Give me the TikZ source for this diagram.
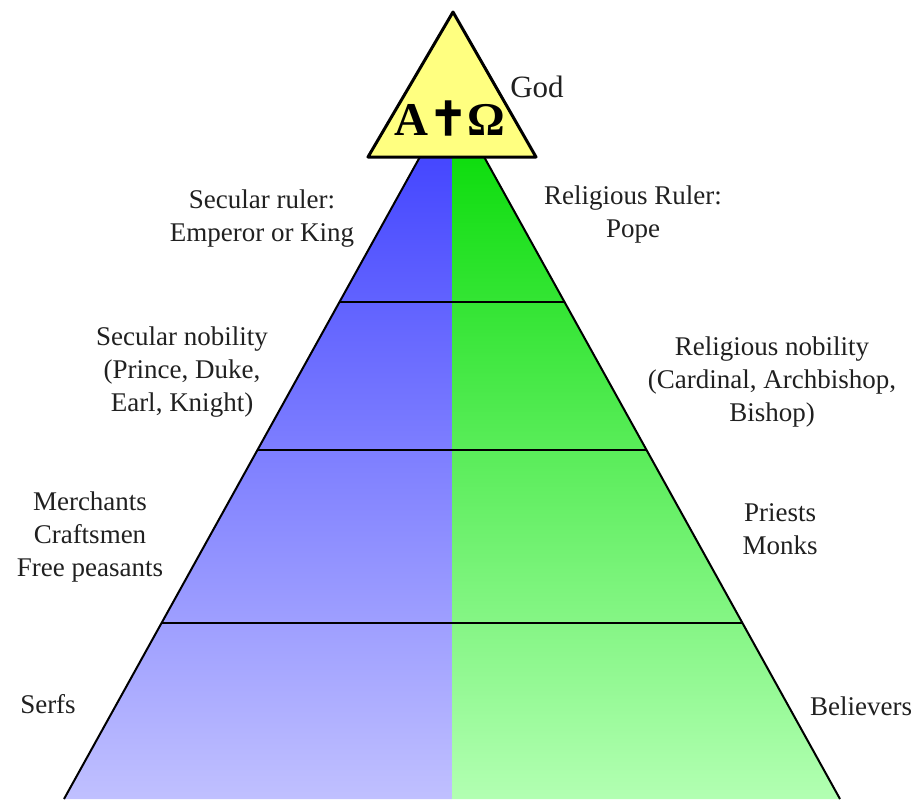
\documentclass[tikz,border=0pt]{standalone}
\usepackage{fontspec}
\setmainfont{Liberation Serif}
\newfontfamily\crossfont[FakeBold=2.5]{DejaVu Sans}
\usepackage{xcolor}
\usepackage{tikz}
\usetikzlibrary{calc}
\definecolor{ink}{HTML}{000000}
\definecolor{labelText}{HTML}{202020}
\definecolor{godYellow}{HTML}{FFFF80}
\definecolor{blueTop}{RGB}{58,60,255}
\definecolor{blueBot}{RGB}{192,192,255}
\definecolor{greenTop}{RGB}{0,218,0}
\definecolor{greenBot}{RGB}{178,255,178}
\tikzset{
  tierEdge/.style={draw=ink, line width=1pt},
  tierLabel/.style={text=labelText, font=\fontsize{13.5}{16.5}\selectfont, align=center},
  godTri/.style={draw=ink, fill=godYellow, line width=1.5pt, line join=round},
  godText/.style={text=ink, font=\bfseries\fontsize{23.5}{26}\selectfont}
}

\begin{document}
\begin{tikzpicture}[x=0.5pt,y=-0.5pt]
  \useasboundingbox (0,0) rectangle (920,799);

  \coordinate (apex) at (452,99);
  \coordinate (baseL) at (64,799);
  \coordinate (baseM) at (452,799);
  \coordinate (baseR) at (840,799);

  % secular and religious halves
  \shade[top color=blueTop, bottom color=blueBot] (apex) -- (baseL) -- (baseM) -- cycle;
  \shade[top color=greenTop, bottom color=greenBot] (apex) -- (baseM) -- (baseR) -- cycle;

  \foreach \t in {0.29,0.5014,0.7486}
    \draw[tierEdge] ($(apex)!\t!(baseL)$) -- ($(apex)!\t!(baseR)$);
  \draw[tierEdge] (baseL) -- (apex) -- (baseR);

  % God on top
  \coordinate (topA) at (453,12);
  \coordinate (topL) at (368,157);
  \coordinate (topR) at (536,157);
  \draw[godTri] (topA) -- (topR) -- (topL) -- cycle;
  \node[godText] (alphaOmega) at (450,118) {A{\crossfont ✝}Ω};
  \node[text=labelText, font=\fontsize{15.5}{18}\selectfont] (god) at (537,87) {God};

  \node[tierLabel] (secRuler) at (262,219) {Secular ruler:\\Emperor or King};
  \node[tierLabel] (relRuler) at (633,214) {Religious Ruler:\\Pope};
  \node[tierLabel] (secNob) at (182,372) {Secular nobility\\(Prince, Duke,\\Earl, Knight)};
  \node[tierLabel] (relNob) at (772,382) {Religious nobility\\(Cardinal, Archbishop,\\Bishop)};
  \node[tierLabel] (merch) at (90,537) {Merchants\\Craftsmen\\Free peasants};
  \node[tierLabel] (priests) at (780,529) {Priests\\Monks};
  \node[tierLabel] (serfs) at (48,704) {Serfs};
  \node[tierLabel] (believers) at (861,706) {Believers};
\end{tikzpicture}
\end{document}
